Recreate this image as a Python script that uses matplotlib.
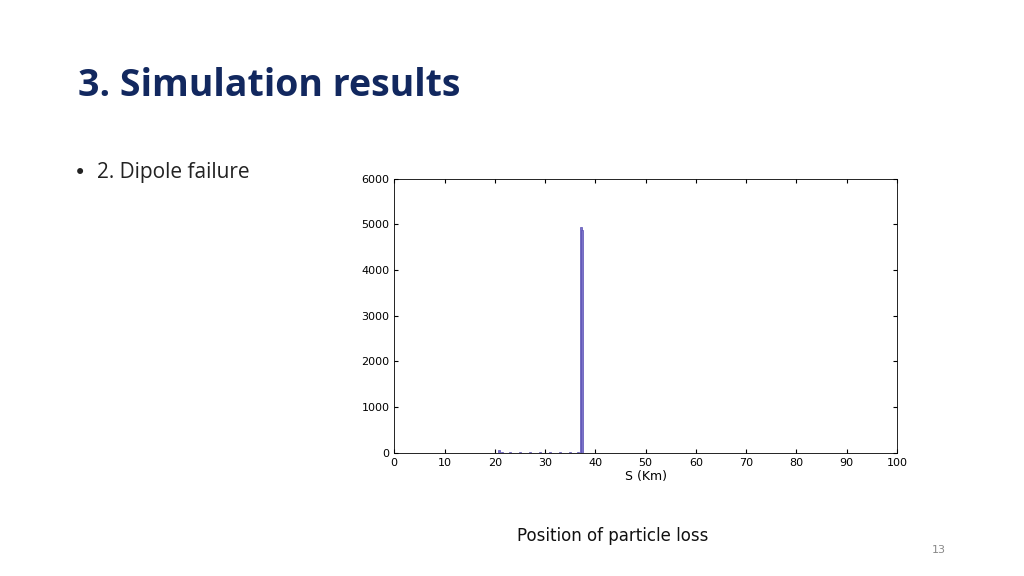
import matplotlib.pyplot as plt

# particle loss histogram (position in km, counts)
pos = [20.9, 21.5, 23.0, 25.0, 27.0, 29.0, 31.0, 33.0, 35.0, 36.5, 37.1, 37.4]
counts = [60, 20, 15, 15, 15, 15, 15, 15, 15, 20, 4950, 4880]

fig = plt.figure(figsize=(10.24, 5.76), dpi=100)
fig.text(0.076, 0.85, "3. Simulation results", fontsize=27, fontweight="bold",
         color="#12285f", family="Open Sans", va="center")
fig.text(0.072, 0.70, "•", fontsize=15, color="#222222", va="center")
fig.text(0.095, 0.70, "2. Dipole failure", fontsize=15, color="#222222",
         family="Open Sans", va="center")
fig.text(0.598, 0.07, "Position of particle loss", fontsize=12, color="#111111",
         ha="center", va="center")
fig.text(0.917, 0.046, "13", fontsize=8, color="#888888", ha="center", va="center")

ax = fig.add_axes([0.385, 0.214, 0.491, 0.476])
ax.bar(pos, counts, width=0.35, color="#7b72c8", edgecolor="#5a50b5", linewidth=0.5)
ax.set_xlim(0, 100)
ax.set_ylim(0, 6000)
ax.set_xticks(range(0, 101, 10))
ax.set_yticks(range(0, 6001, 1000))
ax.tick_params(labelsize=8, direction="in", top=True, right=True, length=3)
ax.set_xlabel("S (Km)", fontsize=9, labelpad=2)
for s in ax.spines.values():
    s.set_linewidth(0.6)

fig.savefig("out.png")
